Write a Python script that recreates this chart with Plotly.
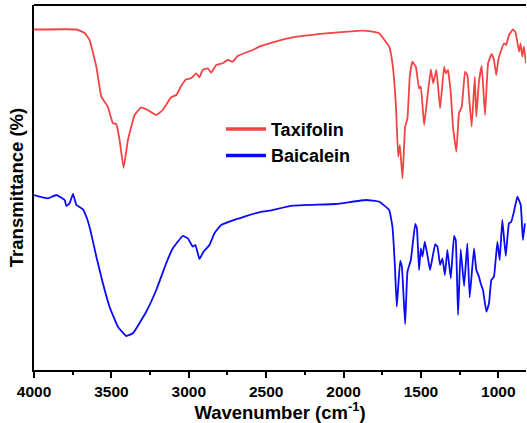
import plotly.graph_objects as go

# Wavenumber (cm-1) and transmittance (arbitrary %, offset spectra)
taxifolin_wn = [4000, 3724, 3673, 3641, 3597, 3565, 3523, 3490, 3468, 3447, 3421, 3393, 3350, 3307, 3264, 3210, 3168, 3114, 3081, 3049, 3017, 2985, 2952, 2931, 2910, 2877, 2855, 2823, 2781, 2748, 2716, 2684, 2587, 2544, 2479, 2329, 2113, 1877, 1813,
                1770, 1705, 1684, 1662, 1647, 1636, 1619, 1602, 1587, 1572, 1555, 1533, 1512, 1501, 1479, 1458, 1436, 1421, 1400, 1376, 1350, 1339, 1325, 1307, 1292, 1271, 1254, 1236, 1215, 1200, 1189, 1172, 1152, 1142, 1125, 1107, 1086, 1066, 1043, 1028, 1013, 1000, 985, 963, 949, 931, 905, 888, 866, 856, 845, 834, 821]
taxifolin_t = [340.5, 340.5, 337, 330, 303.3, 273.3, 263.3, 246.7, 246, 230, 202, 230, 255, 262.7, 260, 255, 260, 272.7, 275, 284, 290.7, 291.7, 296.7, 292.7, 300, 301.7, 297.3, 305, 306.7, 310, 308.3, 314, 320, 323.3, 326.7, 332.7, 336.7, 339.3, 338.3,
               336.7, 323.3, 306.7, 266.7, 213.3, 225, 191.7, 243.3, 251.7, 293.3, 308.3, 303.3, 281.7, 283.3, 245, 273.3, 300.7, 286.7, 300, 261.7, 303.3, 296.7, 300, 276.7, 241.7, 218.3, 256.7, 263.3, 298.3, 295, 273.3, 243.3, 293.3, 253.3, 288.3, 304, 255, 306.7, 316, 310, 295, 310, 318.3, 326.7, 325, 335, 340.7, 337.3, 318.3, 326.7, 313.3, 323.3, 306.7]

baicalein_wn = [4000, 3910, 3855, 3802, 3791, 3770, 3748, 3726, 3684, 3658, 3636, 3597, 3555, 3512, 3458, 3404, 3361, 3275, 3210, 3146, 3103, 3039, 3006, 2974, 2957, 2931, 2905, 2866, 2834, 2791, 2673, 2587, 2544, 2479, 2329, 2049, 1856,
                1770, 1705, 1684, 1669, 1656, 1634, 1623, 1602, 1587, 1565, 1537, 1526, 1512, 1501, 1490, 1475, 1458, 1441, 1408, 1393, 1376, 1361, 1345, 1329, 1307, 1286, 1275, 1260, 1243, 1221, 1200, 1185, 1157, 1142, 1125, 1114, 1099, 1077, 1060, 1045, 1028, 1006, 991, 974, 952, 931, 916, 899, 877, 855, 841, 828]
baicalein_t = [175, 171.7, 175, 170, 164, 166.7, 176, 165, 160.7, 151.7, 140, 113.3, 86.7, 63.3, 43.3, 34, 36.7, 58.3, 80, 106.7, 121.7, 134, 131.7, 123.3, 125, 111, 118.3, 125, 136.7, 145, 151.7, 156, 157.7, 159.3, 164.3, 166, 170,
               168.3, 160, 143.3, 106.7, 63.3, 109.3, 103.3, 46, 98.3, 110, 146, 141.7, 100, 121.7, 113.3, 128.3, 115, 100, 125.7, 123.3, 105, 111.7, 95, 120, 91.7, 134, 130, 55, 120.7, 84, 126.7, 72.7, 121.7, 100, 93.3, 86.7, 80, 58.3, 66.7, 90, 93.3, 128.3, 110, 150, 114, 146.7, 148.3, 158.3, 173.3, 165, 130, 146.7]

series_names = ["Taxifolin", "Baicalein"]
series_colors = ["#F24444", "#0A0AF5"]
x_ticks = [4000, 3500, 3000, 2500, 2000, 1500, 1000]

fig = go.Figure()
for wn, t, name, color in zip([taxifolin_wn, baicalein_wn], [taxifolin_t, baicalein_t],
                              series_names, series_colors):
    fig.add_trace(go.Scatter(x=wn, y=t, mode="lines", name=name, showlegend=False,
                             line=dict(color=color, width=1.8, shape="spline", smoothing=0.3)))
# legend entries with thicker line samples
for name, color in zip(series_names, series_colors):
    fig.add_trace(go.Scatter(x=[None], y=[None], mode="lines", name=name,
                             line=dict(color=color, width=3.5)))

font_main = "Arial, Liberation Sans, sans-serif"
fig.update_layout(
    width=527, height=423,
    margin=dict(l=34, r=1, t=5, b=53),
    paper_bgcolor="white", plot_bgcolor="white",
    font=dict(family=font_main, color="black"),
    showlegend=True,
    legend=dict(x=0.38, y=0.71, xanchor="left", yanchor="top",
                bgcolor="rgba(0,0,0,0)", borderwidth=0,
                font=dict(size=18, family=font_main, color="black", weight="bold"),
                itemwidth=40, tracegroupgap=0),
    xaxis=dict(range=[4000, 821], autorange=False,
               tickvals=x_ticks, ticktext=[str(v) for v in x_ticks],
               ticks="outside", ticklen=6, tickwidth=1.5, tickcolor="black",
               ticklabelstandoff=0,
               minor=dict(dtick=250, tick0=0, ticks="outside", ticklen=3, tickwidth=1.5, tickcolor="black"),
               showline=True, linewidth=2, linecolor="black", mirror=False,
               showgrid=False, zeroline=False,
               tickfont=dict(size=15.5, family=font_main, weight="bold"),
               title=dict(text="Wavenumber (cm<sup>-1</sup>)", standoff=9,
                          font=dict(size=18.5, family=font_main, weight="bold"))),
    yaxis=dict(range=[0, 365], autorange=False,
               showticklabels=False, ticks="",
               showline=True, linewidth=2, linecolor="black",
               showgrid=False, zeroline=False,
               title=dict(text="Transmittance (%)", standoff=4,
                          font=dict(size=18.5, family=font_main, weight="bold"))),
)
# top border line
fig.add_shape(type="line", xref="paper", yref="paper", x0=0, x1=1, y0=1, y1=1,
              line=dict(color="black", width=2))

fig.write_html("out.html", config={"displayModeBar": False},
               post_script="document.body.style.margin='0';document.body.style.padding='0';window.dispatchEvent(new Event('resize'));")
